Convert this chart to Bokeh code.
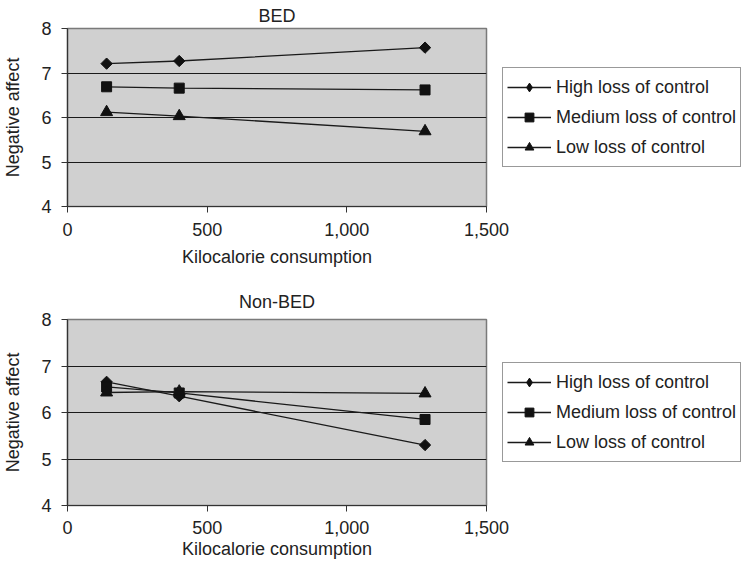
import math
from bokeh.plotting import figure
from bokeh.layouts import column
from bokeh.models import Legend, LegendItem, FixedTicker, NumeralTickFormatter, Range1d, Spacer
from bokeh.embed import file_html
from bokeh.resources import INLINE

kcal = [140, 400, 1280]
series_names = ["High loss of control", "Medium loss of control", "Low loss of control"]

bed_high = [7.21, 7.27, 7.57]
bed_medium = [6.69, 6.66, 6.62]
bed_low = [6.12, 6.03, 5.69]

nonbed_high = [6.66, 6.35, 5.30]
nonbed_medium = [6.55, 6.42, 5.85]
nonbed_low = [6.43, 6.45, 6.41]

x_ticks = [0, 500, 1000, 1500]
y_ticks = [4, 5, 6, 7, 8]

FONT = "Liberation Sans"
FS = "18px"

# plot marker, size, angle, legend marker
marker_styles = [("square", 8, math.pi / 4, "diamond"),
                 ("square", 10, 0.0, "square"),
                 ("triangle", 12, 0.0, "triangle")]


def make_panel(title, series, frame_h, title_standoff, tick_standoff, xlabel_standoff):
    p = figure(title=title, output_backend="svg", toolbar_location=None,
               frame_width=419, frame_height=frame_h,
               min_border_left=0, min_border_right=0,
               min_border_top=0, min_border_bottom=0,
               x_range=Range1d(0, 1500), y_range=Range1d(4, 8))
    p.background_fill_color = "#d0d0d0"
    p.border_fill_color = "white"
    p.outline_line_color = "#7a7a7a"
    p.outline_line_width = 1.5
    p.title.align = "center"
    p.title.text_font = FONT
    p.title.text_font_size = FS
    p.title.text_font_style = "normal"
    p.title.text_color = "#222222"
    p.title.standoff = title_standoff
    p.title.offset = 0

    p.xgrid.visible = False
    p.ygrid.ticker = FixedTicker(ticks=y_ticks)
    p.ygrid.grid_line_color = "#1a1a1a"
    p.ygrid.grid_line_width = 1.2

    for ax in (p.xaxis[0], p.yaxis[0]):
        ax.axis_line_color = "#333333"
        ax.axis_line_width = 1.2
        ax.major_tick_line_color = "#333333"
        ax.major_tick_out = 6
        ax.major_tick_in = 0
        ax.minor_tick_line_color = None
        ax.major_label_text_font = FONT
        ax.major_label_text_font_size = FS
        ax.major_label_text_color = "#222222"
        ax.axis_label_text_font = FONT
        ax.axis_label_text_font_size = FS
        ax.axis_label_text_font_style = "normal"
        ax.axis_label_text_color = "#222222"

    p.xaxis.ticker = FixedTicker(ticks=x_ticks)
    p.xaxis.formatter = NumeralTickFormatter(format="0,0")
    p.xaxis.axis_label = "Kilocalorie consumption"
    p.xaxis.major_label_standoff = tick_standoff
    p.xaxis.axis_label_standoff = xlabel_standoff
    p.yaxis.ticker = FixedTicker(ticks=y_ticks)
    p.yaxis.axis_label = "Negative affect"
    p.yaxis.major_label_standoff = 10
    p.yaxis.axis_label_standoff = 15

    items = []
    for name, (mk, sz, ang, lmk), ys in zip(series_names, marker_styles, series):
        ln = p.line(kcal, ys, line_color="#1a1a1a", line_width=1.3)
        sc = p.scatter(kcal, ys, marker=mk, size=sz, angle=ang,
                       fill_color="#111111", line_color="#111111")
        if lmk != mk:
            # tiny marker hidden under the visible one; supplies the legend glyph shape
            lg = p.scatter(kcal, ys, marker=lmk, size=1,
                           fill_color="#111111", line_color="#111111")
            items.append(LegendItem(label=name, renderers=[ln, lg]))
        else:
            items.append(LegendItem(label=name, renderers=[ln, sc]))

    leg = Legend(items=items, location="center_left")
    leg.margin = 16
    leg.padding = 4
    leg.spacing = 0
    leg.glyph_width = 44
    leg.glyph_height = 22
    leg.label_height = 30
    leg.label_standoff = 5
    leg.label_text_font = FONT
    leg.label_text_font_size = FS
    leg.label_text_color = "#222222"
    leg.border_line_color = "#333333"
    leg.border_line_width = 1.3
    leg.background_fill_color = "white"
    p.add_layout(leg, "right")
    return p


p1 = make_panel("BED", [bed_high, bed_medium, bed_low], 178, 6, 10, 8)
p2 = make_panel("Non-BED", [nonbed_high, nonbed_medium, nonbed_low], 186, 15, 9, 2)

layout = column(p1, Spacer(height=13), p2, spacing=0)
open("out.html", "w").write(file_html(layout, INLINE))
